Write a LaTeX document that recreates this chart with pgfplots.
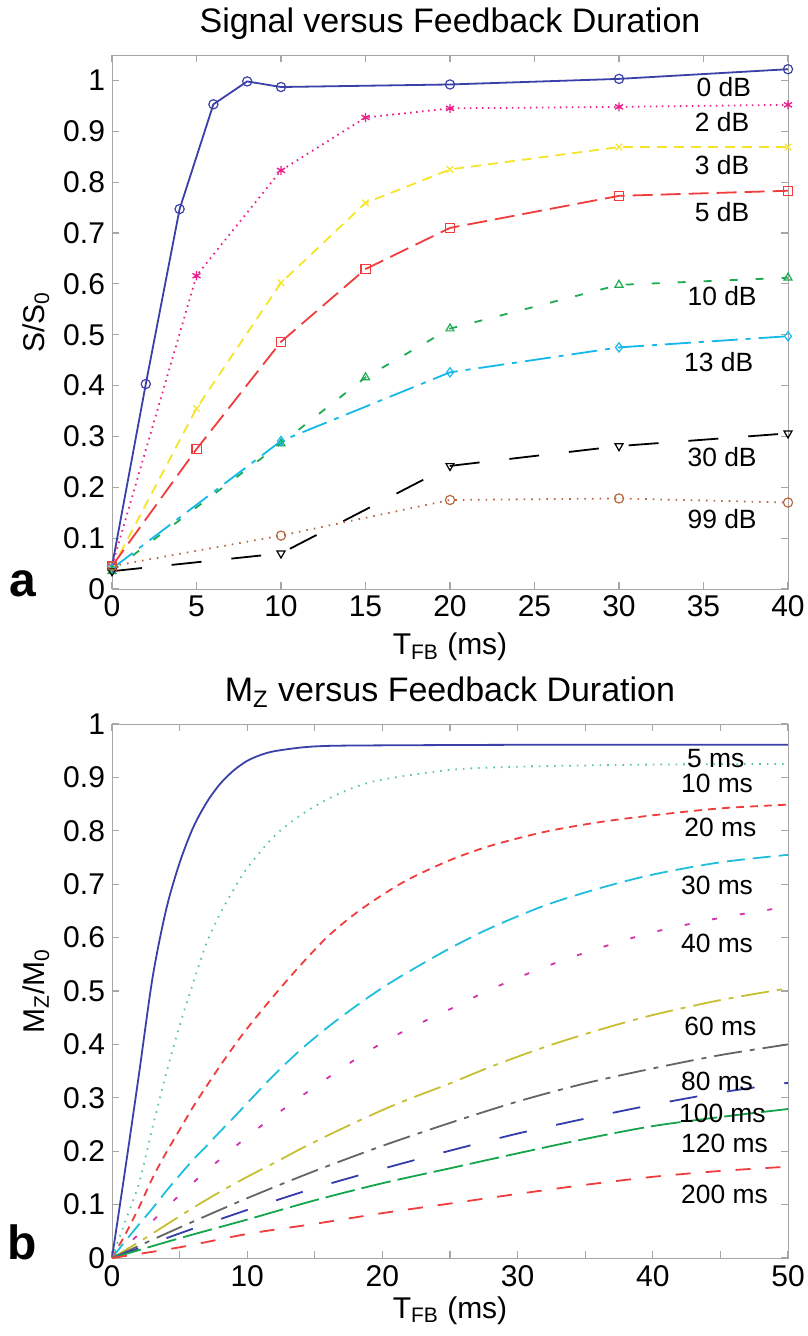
\documentclass[border=0pt]{standalone}
\usepackage{fontspec}
\setmainfont{Liberation Sans}
\usepackage{pgfplots}
\pgfplotsset{compat=1.18}

\definecolor{mblue}{RGB}{58,64,168}
\definecolor{mpink}{RGB}{235,30,140}
\definecolor{myellow}{RGB}{245,228,40}
\definecolor{mred}{RGB}{240,60,60}
\definecolor{mgreen}{RGB}{30,170,80}
\definecolor{mcyan}{RGB}{20,185,235}
\definecolor{mbrown}{RGB}{185,105,65}
\definecolor{bteal}{RGB}{90,200,150}
\definecolor{bcyan}{RGB}{30,190,220}
\definecolor{bmag}{RGB}{210,50,170}
\definecolor{bolive}{RGB}{200,190,50}
\definecolor{bgray}{RGB}{100,100,100}
\definecolor{bblue}{RGB}{50,60,170}
\definecolor{bgreen}{RGB}{20,165,75}

\tikzset{lab/.style={font=\fontsize{13.2}{16}\selectfont}}

\pgfplotsset{
  mstyle/.style={
    scale only axis, width=338pt, height=267pt,
    axis line style={gray!70}, tick style={gray!70, line width=0.6pt},
    tick align=inside, major tick length=3.5pt,
    tick label style={font=\fontsize{15}{18}\selectfont},
    every axis title/.style={at={(0.5,1)}, anchor=base, yshift=11pt,
      font=\fontsize{17}{20}\selectfont},
    every axis x label/.style={at={(0.5,0)}, anchor=base, yshift=-33pt,
      font=\fontsize{15}{18}\selectfont},
    every axis y label/.style={at={(0,0.5)}, xshift=-38pt, rotate=90, anchor=center,
      font=\fontsize{15}{18}\selectfont},
    clip=false,
    ytick={0,0.1,0.2,0.3,0.4,0.5,0.6,0.7,0.8,0.9,1},
    yticklabels={0,0.1,0.2,0.3,0.4,0.5,0.6,0.7,0.8,0.9,1},
    every axis plot/.append style={line width=0.9pt},
  },
}

\begin{document}
\begin{tikzpicture}
\useasboundingbox (0,0) rectangle (403.5pt,668pt);

% ---- panel a
\begin{axis}[mstyle, at={(56pt,373.5pt)}, anchor=south west,
  xmin=0, xmax=40, ymin=0, ymax=1.05,
  xtick={0,5,10,15,20,25,30,35,40},
  xticklabels={0,5,10,15,20,25,30,35,40},
  title={Signal versus Feedback Duration},
  xlabel={T\textsubscript{FB} (ms)},
  ylabel={S/S\textsubscript{0}},
  mark size=2.3pt]

\addplot[mblue, mark=o, mark options={solid, line width=0.6pt}] coordinates {
  (0,0.045) (2,0.403) (4,0.747) (6,0.953) (8,0.998) (10,0.987)
  (20,0.992) (30,1.003) (40,1.022)};
\addplot[mpink, dash pattern=on 0.8pt off 2.2pt, mark=asterisk, mark options={solid, line width=0.7pt}] coordinates {
  (0,0.045) (5,0.616) (10,0.823) (15,0.927) (20,0.945) (30,0.948) (40,0.952)};
\addplot[myellow, dash pattern=on 5pt off 3.5pt, mark=x, mark options={solid, line width=0.6pt}] coordinates {
  (0,0.04) (5,0.355) (10,0.602) (15,0.759) (20,0.825) (30,0.869) (40,0.869)};
\addplot[mred, dash pattern=on 10pt off 4pt, mark=square, mark options={solid, line width=0.6pt}] coordinates {
  (0,0.045) (5,0.275) (10,0.486) (15,0.629) (20,0.710) (30,0.773) (40,0.783)};
\addplot[mgreen, dash pattern=on 4pt off 9pt, mark=triangle, mark options={solid, line width=0.6pt}] coordinates {
  (0,0.035) (10,0.286) (15,0.416) (20,0.512) (30,0.598) (40,0.612)};
\addplot[mcyan, dash pattern=on 13pt off 4pt on 2.5pt off 4pt, mark=diamond, mark options={solid, line width=0.6pt}] coordinates {
  (0,0.04) (10,0.291) (20,0.426) (30,0.475) (40,0.497)};
\addplot[black, dash pattern=on 15pt off 15pt, mark=triangle, mark options={solid, rotate=180, line width=0.6pt}] coordinates {
  (0,0.035) (10,0.07) (20,0.242) (30,0.281) (40,0.306)};
\addplot[mbrown, dash pattern=on 0.8pt off 3pt, mark=o, mark options={solid, line width=0.6pt}] coordinates {
  (0,0.045) (10,0.105) (20,0.175) (30,0.178) (40,0.170)};

\node[lab] at (axis cs:36.2,0.986) {0 dB};
\node[lab] at (axis cs:36.1,0.918) {2 dB};
\node[lab] at (axis cs:36.1,0.833) {3 dB};
\node[lab] at (axis cs:36.1,0.742) {5 dB};
\node[lab] at (axis cs:36.1,0.575) {10 dB};
\node[lab] at (axis cs:35.9,0.447) {13 dB};
\node[lab] at (axis cs:36.1,0.259) {30 dB};
\node[lab] at (axis cs:36.1,0.137) {99 dB};
\end{axis}

% ---- panel b
\begin{axis}[mstyle, at={(56pt,39pt)}, anchor=south west,
  xmin=0, xmax=50, ymin=0, ymax=1,
  xtick={0,5,10,15,20,25,30,35,40,45,50},
  xticklabels={0,,10,,20,,30,,40,,50},
  title={M\textsubscript{Z} versus Feedback Duration},
  xlabel={T\textsubscript{FB} (ms)},
  xlabel style={yshift=3pt},
  ylabel={M\textsubscript{Z}/M\textsubscript{0}}]

\addplot[mblue, smooth] coordinates {
  (0,0) (1,0.17) (2,0.345) (3,0.525) (4,0.652) (5,0.74) (6,0.806) (7,0.853)
  (8,0.888) (9,0.913) (10,0.931) (11,0.942) (12,0.949) (14,0.956) (16,0.959)
  (20,0.960) (30,0.961) (40,0.961) (50,0.961)};
\addplot[bteal, smooth, dash pattern=on 0.8pt off 3pt] coordinates {
  (0,0) (1,0.07) (2,0.14) (3,0.245) (4,0.345) (5,0.435) (6,0.515) (7,0.59)
  (8,0.645) (9,0.69) (10,0.73) (12,0.79) (14,0.83) (16,0.86) (18,0.882)
  (20,0.896) (25,0.914) (30,0.92) (40,0.924) (50,0.925)};
\addplot[mred, smooth, dash pattern=on 4pt off 3pt] coordinates {
  (0,0) (1,0.045) (2,0.095) (3,0.15) (4,0.197) (5,0.24) (6,0.283) (7,0.322)
  (8,0.36) (9,0.396) (10,0.43) (12,0.492) (14,0.55) (16,0.603) (18,0.645)
  (20,0.68) (22,0.71) (25,0.745) (28,0.772) (32,0.798) (36,0.816) (40,0.829)
  (45,0.842) (50,0.849)};
\addplot[bcyan, smooth, dash pattern=on 9pt off 4pt] coordinates {
  (0,0) (1,0.032) (2,0.063) (3,0.093) (4,0.125) (5,0.155) (6,0.184) (7,0.21)
  (8,0.237) (9,0.263) (10,0.29) (12,0.343) (14,0.391) (16,0.433) (18,0.471)
  (20,0.506) (22,0.537) (25,0.58) (28,0.618) (32,0.66) (36,0.692) (40,0.718)
  (45,0.741) (50,0.755)};
\addplot[bmag, smooth, dash pattern=on 2.5pt off 11.5pt] coordinates {
  (0,0) (2,0.045) (4,0.094) (6,0.141) (8,0.185) (10,0.227) (12,0.266) (14,0.303)
  (16,0.338) (18,0.372) (20,0.403) (22,0.43) (25,0.466) (28,0.503) (32,0.545)
  (36,0.58) (40,0.61) (45,0.637) (50,0.658)};
\addplot[bolive, smooth, dash pattern=on 14pt off 4pt on 2.5pt off 4pt] coordinates {
  (0,0) (2,0.03) (4,0.062) (6,0.094) (8,0.124) (10,0.152) (12,0.178) (14,0.205)
  (16,0.23) (18,0.254) (20,0.277) (22,0.298) (25,0.327) (28,0.358) (32,0.395)
  (36,0.427) (40,0.455) (45,0.483) (50,0.505)};
\addplot[bgray, smooth, dash pattern=on 14pt off 4pt on 2.5pt off 4pt] coordinates {
  (0,0) (5,0.057) (10,0.112) (15,0.163) (20,0.21) (25,0.253) (30,0.293)
  (35,0.327) (40,0.355) (45,0.38) (50,0.40)};
\addplot[bblue, smooth, dash pattern=on 14pt off 15pt] coordinates {
  (0,0) (5,0.046) (10,0.09) (15,0.131) (20,0.167) (25,0.201) (30,0.233)
  (35,0.261) (40,0.287) (45,0.31) (50,0.328)};
\addplot[bgreen, smooth, dash pattern=on 15pt off 3.5pt] coordinates {
  (0,0) (5,0.037) (10,0.072) (15,0.108) (20,0.14) (25,0.168) (30,0.196)
  (35,0.223) (40,0.247) (45,0.264) (50,0.279)};
\addplot[mred, smooth, dash pattern=on 7.5pt off 7.5pt] coordinates {
  (0,0) (5,0.02) (10,0.045) (15,0.064) (20,0.084) (25,0.102) (30,0.12)
  (35,0.137) (40,0.152) (45,0.163) (50,0.171)};

\node[lab] at (axis cs:44.65,0.936) {5 ms};
\node[lab] at (axis cs:44.75,0.888) {10 ms};
\node[lab] at (axis cs:45.0,0.806) {20 ms};
\node[lab] at (axis cs:44.75,0.697) {30 ms};
\node[lab] at (axis cs:44.75,0.590) {40 ms};
\node[lab] at (axis cs:45.0,0.434) {60 ms};
\node[lab] at (axis cs:44.75,0.331) {80 ms};
\node[lab] at (axis cs:45.15,0.270) {100 ms};
\node[lab] at (axis cs:45.3,0.214) {120 ms};
\node[lab] at (axis cs:45.3,0.119) {200 ms};
\end{axis}

\node[font=\fontsize{24}{28}\selectfont\bfseries, anchor=base] at (11.25pt,369.5pt) {a};
\node[font=\fontsize{24}{28}\selectfont\bfseries, anchor=base] at (11.25pt,38pt) {b};
\end{tikzpicture}
\end{document}
